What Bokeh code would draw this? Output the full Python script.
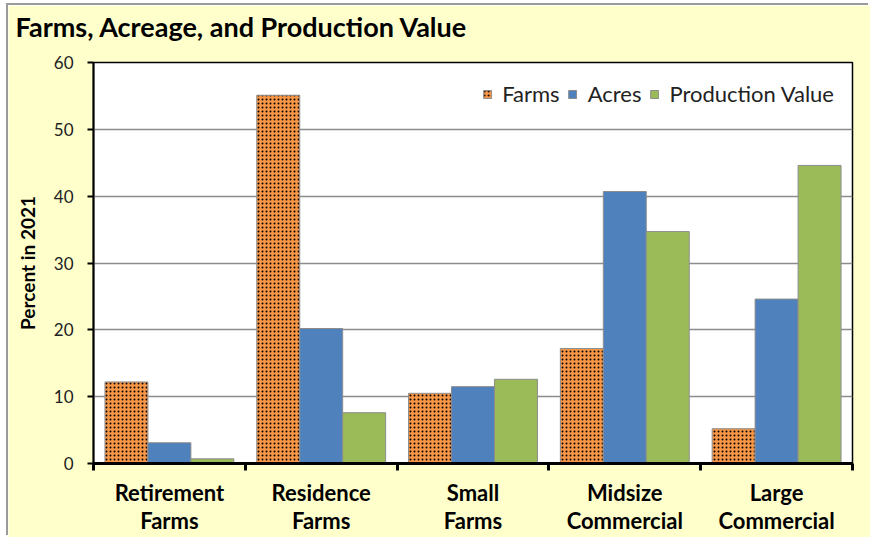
from bokeh.plotting import figure
from bokeh.models import (ColumnDataSource, FixedTicker, Legend, LegendItem, Range1d, Title)
from bokeh.transform import dodge
from bokeh.embed import file_html
from bokeh.resources import INLINE

categories = ["Retirement\nFarms", "Residence\nFarms", "Small\nFarms",
              "Midsize\nCommercial", "Large\nCommercial"]
series_names = ["Farms", "Acres", "Production Value"]
farms = [12.2, 55.1, 10.5, 17.2, 5.2]
acres = [3.1, 20.2, 11.5, 40.7, 24.6]
production_value = [0.7, 7.6, 12.6, 34.7, 44.6]
y_ticks = [0, 10, 20, 30, 40, 50, 60]
title_text = "Farms, Acreage, and Production Value"

FONT = "Lato"
n = len(categories)
centers = [i + 0.5 for i in range(n)]
boundaries = list(range(n + 1))
cat_labels = {c: cat for c, cat in zip(centers, categories)}

source = ColumnDataSource(dict(x=centers, farms=farms, acres=acres, pv=production_value))

W, H = 862, 532
p = figure(width=W, height=H, output_backend="svg", toolbar_location=None,
           x_range=Range1d(0, n), y_range=Range1d(0, 60),
           min_border_left=85, min_border_right=18, min_border_top=57, min_border_bottom=74,
           background_fill_color="white", border_fill_color="#FFFFCC",
           outline_line_color="black", outline_line_width=1.5)
p.margin = (5, 0, 0, 8)
p.styles = {"box-shadow": "-2px -2px 0 0 #9a9a9a"}

bw = 0.283
r_f = p.vbar(x=dodge("x", -bw, range=p.x_range), top="farms", width=bw, source=source,
             fill_color="#F79646", line_color="#8c8c8c", line_width=1,
             hatch_pattern="dot", hatch_color="black", hatch_scale=4, hatch_weight=1.5)
r_a = p.vbar(x=dodge("x", 0, range=p.x_range), top="acres", width=bw, source=source,
             fill_color="#4F81BD", line_color="#8c8c8c", line_width=1)
r_p = p.vbar(x=dodge("x", bw, range=p.x_range), top="pv", width=bw, source=source,
             fill_color="#9BBB59", line_color="#8c8c8c", line_width=1)

# title with a spacer title between it and the frame
p.add_layout(Title(text=" ", text_font_size="8px", standoff=8), "above")
p.title.text = title_text
p.title.text_font = FONT
p.title.text_font_size = "27px"
p.title.text_font_style = "bold"
p.title.align = "left"
p.title.offset = -78
p.title.standoff = 2
p.title.text_color = "black"

# x axis: boundary ticks as minor ticks, category labels at centers
xa = p.xaxis[0]
xa.ticker = FixedTicker(ticks=centers, minor_ticks=boundaries)
xa.major_label_overrides = cat_labels
xa.major_label_text_font = FONT
xa.major_label_text_font_size = "22px"
xa.major_label_text_font_style = "bold"
xa.major_label_text_color = "black"
xa.major_label_text_line_height = 1.07
xa.major_label_standoff = 8
xa.major_tick_line_color = None
xa.major_tick_out = 0
xa.major_tick_in = 0
xa.minor_tick_out = 7
xa.minor_tick_in = 0
xa.minor_tick_line_width = 3
xa.minor_tick_line_color = "black"
xa.axis_line_width = 3
xa.axis_line_color = "black"

ya = p.yaxis[0]
ya.ticker = FixedTicker(ticks=y_ticks)
ya.major_label_text_font = FONT
ya.major_label_text_font_size = "17px"
ya.major_label_text_color = "#222222"
ya.major_label_standoff = 14
ya.major_tick_out = 6
ya.major_tick_in = 0
ya.major_tick_line_width = 2
ya.axis_line_width = 2
ya.axis_line_color = "black"
ya.minor_tick_line_color = None
ya.axis_label = "Percent in 2021"
ya.axis_label_text_font = FONT
ya.axis_label_text_font_size = "19px"
ya.axis_label_text_font_style = "bold"
ya.axis_label_text_color = "black"
ya.axis_label_standoff = 12

p.xgrid.grid_line_color = None
p.ygrid.ticker = FixedTicker(ticks=y_ticks)
p.ygrid.grid_line_color = "#8c8c8c"
p.ygrid.grid_line_width = 1.5

legend = Legend(items=[LegendItem(label=series_names[0], renderers=[r_f]),
                       LegendItem(label=series_names[1], renderers=[r_a]),
                       LegendItem(label=series_names[2], renderers=[r_p])],
                orientation="horizontal", location="top_right",
                border_line_color=None, background_fill_alpha=0,
                label_text_font=FONT, label_text_font_size="22px",
                label_text_color="#222222",
                glyph_width=10, glyph_height=10, spacing=8, label_standoff=10,
                margin=18, padding=8)
p.add_layout(legend)

open("out.html", "w").write(file_html(p, INLINE))
